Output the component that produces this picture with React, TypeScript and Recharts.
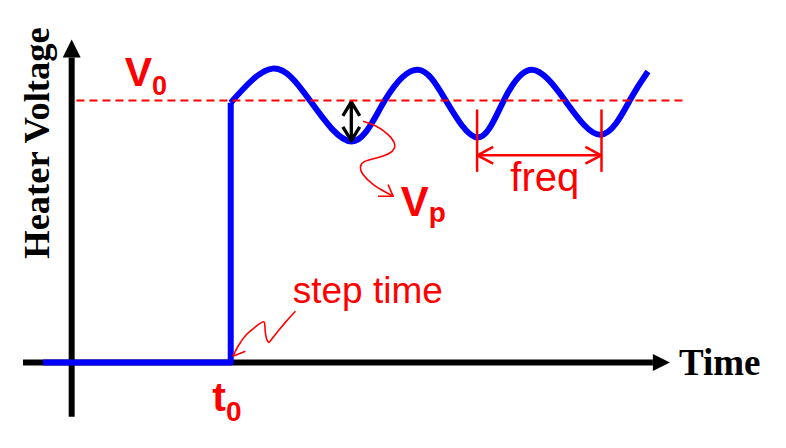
import { LineChart, Line, XAxis, YAxis, ReferenceLine, ReferenceDot } from 'recharts'

// time in units of t0, voltage in units of V0
const timeDomain = [-0.35, 3.9]
const voltDomain = [-0.25, 1.3]

const V0 = 1

// axes (black)
const xAxisLine = [
  { t: -0.306, v: 0 },
  { t: 3.654, v: 0 },
]
const yAxisLine = [
  { t: 0, v: -0.207 },
  { t: 0, v: 1.164 },
]
const xArrowTip = { t: 3.761, v: 0 }
const yArrowTip = { t: 0, v: 1.233 }

// heater voltage: off, then step at t0
const stepSeries = [
  { t: -0.18, v: 0 },
  { t: 1, v: 0 },
  { t: 1, v: 0.992 },
]

// oscillation after the step
const waveSeries = [
  { t: 1.0, v: 0.992 },
  { t: 1.264, v: 1.122 },
  { t: 1.497, v: 1.001 },
  { t: 1.761, v: 0.844 },
  { t: 1.969, v: 1.001 },
  { t: 2.176, v: 1.118 },
  { t: 2.352, v: 1.001 },
  { t: 2.553, v: 0.859 },
  { t: 2.717, v: 1.001 },
  { t: 2.893, v: 1.118 },
  { t: 3.101, v: 1.001 },
  { t: 3.327, v: 0.87 },
  { t: 3.509, v: 1.001 },
  { t: 3.623, v: 1.111 },
]

const v0Span = [0.03, 3.868]

// Vp double arrow
const vpShaft = [
  { t: 1.758, v: 0.997 },
  { t: 1.758, v: 0.845 },
]
const vpHeadTop = [
  { t: 1.705, v: 0.942 },
  { t: 1.758, v: 0.995 },
  { t: 1.811, v: 0.942 },
]
const vpHeadBottom = [
  { t: 1.705, v: 0.9 },
  { t: 1.758, v: 0.847 },
  { t: 1.811, v: 0.9 },
]

// freq marker
const freqLeft = [
  { t: 2.549, v: 0.966 },
  { t: 2.549, v: 0.728 },
]
const freqRight = [
  { t: 3.331, v: 0.966 },
  { t: 3.331, v: 0.728 },
]
const freqSpan = [
  { t: 2.549, v: 0.791 },
  { t: 3.331, v: 0.791 },
]
const freqHeadLeft = [
  { t: 2.65, v: 0.823 },
  { t: 2.551, v: 0.791 },
  { t: 2.65, v: 0.759 },
]
const freqHeadRight = [
  { t: 3.23, v: 0.823 },
  { t: 3.329, v: 0.791 },
  { t: 3.23, v: 0.759 },
]

// squiggly pointers
const vpPointer = [
  { t: 1.832, v: 0.921 },
  { t: 1.918, v: 0.901 },
  { t: 1.989, v: 0.87 },
  { t: 2.031, v: 0.832 },
  { t: 2.0, v: 0.8 },
  { t: 1.916, v: 0.781 },
  { t: 1.843, v: 0.768 },
  { t: 1.816, v: 0.748 },
  { t: 1.832, v: 0.718 },
  { t: 1.895, v: 0.68 },
  { t: 1.969, v: 0.652 },
  { t: 2.021, v: 0.635 },
]
const vpPointerHead = [
  { t: 1.989, v: 0.679 },
  { t: 2.021, v: 0.635 },
  { t: 1.926, v: 0.635 },
]
const stepPointer = [
  { t: 1.407, v: 0.196 },
  { t: 1.35, v: 0.158 },
  { t: 1.297, v: 0.119 },
  { t: 1.256, v: 0.088 },
  { t: 1.235, v: 0.079 },
  { t: 1.217, v: 0.118 },
  { t: 1.209, v: 0.155 },
  { t: 1.162, v: 0.139 },
  { t: 1.099, v: 0.107 },
  { t: 1.046, v: 0.062 },
  { t: 1.014, v: 0.024 },
]
const stepPointerHead = [
  { t: 1.092, v: 0.043 },
  { t: 1.014, v: 0.024 },
]

// label anchors
const yTitleAt = { t: -0.145, v: 0.838 }
const xTitleAt = { t: 3.818, v: -0.048 }
const v0At = { t: 0.333, v: 1.055 }
const vpAt = { t: 2.069, v: 0.558 }
const freqAt = { t: 2.758, v: 0.654 }
const stepAt = { t: 1.39, v: 0.228 }
const t0At = { t: 0.884, v: -0.186 }

const RED = '#ff0000'
const BLUE = '#0000ff'
const serif = '"Liberation Serif", "Times New Roman", serif'
const sans = '"Liberation Sans", Arial, sans-serif'

const segments = [
  { key: 'xaxis', data: xAxisLine, color: '#000', width: 6, curve: 'linear' },
  { key: 'yaxis', data: yAxisLine, color: '#000', width: 6, curve: 'linear' },
  { key: 'step', data: stepSeries, color: BLUE, width: 6, curve: 'linear' },
  { key: 'wave', data: waveSeries, color: BLUE, width: 6, curve: 'natural' },
  { key: 'vpShaft', data: vpShaft, color: '#000', width: 3.3, curve: 'linear' },
  { key: 'vpTop', data: vpHeadTop, color: '#000', width: 3.3, curve: 'linear' },
  { key: 'vpBot', data: vpHeadBottom, color: '#000', width: 3.3, curve: 'linear' },
  { key: 'fL', data: freqLeft, color: RED, width: 2.5, curve: 'linear' },
  { key: 'fR', data: freqRight, color: RED, width: 2.5, curve: 'linear' },
  { key: 'fS', data: freqSpan, color: RED, width: 2.5, curve: 'linear' },
  { key: 'fHL', data: freqHeadLeft, color: RED, width: 2.5, curve: 'linear' },
  { key: 'fHR', data: freqHeadRight, color: RED, width: 2.5, curve: 'linear' },
  { key: 'vpPtr', data: vpPointer, color: RED, width: 1.6, curve: 'natural' },
  { key: 'vpPtrH', data: vpPointerHead, color: RED, width: 1.6, curve: 'linear' },
  { key: 'stPtr', data: stepPointer, color: RED, width: 1.6, curve: 'natural' },
  { key: 'stPtrH', data: stepPointerHead, color: RED, width: 1.6, curve: 'linear' },
]

export default function App() {
  return (
    <div style={{ position: 'absolute', left: 0, top: 0, background: '#fff' }}>
      <LineChart width={786} height={448} margin={{ top: 22, right: 94, bottom: 20, left: 16 }}>
        <XAxis type="number" dataKey="t" domain={timeDomain} allowDataOverflow hide />
        <YAxis type="number" dataKey="v" domain={voltDomain} allowDataOverflow hide />

        {segments.map((s) => (
          <Line
            key={s.key}
            data={s.data}
            dataKey="v"
            type={s.curve as any}
            stroke={s.color}
            strokeWidth={s.width}
            strokeLinejoin="round"
            dot={false}
            activeDot={false}
            isAnimationActive={false}
          />
        ))}

        <ReferenceLine
          segment={[
            { x: v0Span[0], y: V0 },
            { x: v0Span[1], y: V0 },
          ]}
          stroke={RED}
          strokeWidth={2}
          strokeDasharray="8 5"
        />

        {/* arrow heads of the axes */}
        <ReferenceDot
          x={xArrowTip.t}
          y={xArrowTip.v}
          shape={(p: any) => (
            <polygon
              points={`${p.cx},${p.cy} ${p.cx - 17},${p.cy - 8.5} ${p.cx - 17},${p.cy + 8.5}`}
              fill="#000"
            />
          )}
        />
        <ReferenceDot
          x={yArrowTip.t}
          y={yArrowTip.v}
          shape={(p: any) => (
            <polygon
              points={`${p.cx},${p.cy} ${p.cx - 9},${p.cy + 18} ${p.cx + 9},${p.cy + 18}`}
              fill="#000"
            />
          )}
        />

        {/* texts */}
        <ReferenceDot
          x={yTitleAt.t}
          y={yTitleAt.v}
          shape={(p: any) => (
            <text
              x={p.cx}
              y={p.cy}
              transform={`rotate(-90 ${p.cx} ${p.cy})`}
              textAnchor="middle"
              fontFamily={serif}
              fontWeight="bold"
              fontSize={36.5}
              fill="#000"
            >
              Heater Voltage
            </text>
          )}
        />
        <ReferenceDot
          x={xTitleAt.t}
          y={xTitleAt.v}
          shape={(p: any) => (
            <text x={p.cx} y={p.cy} fontFamily={serif} fontWeight="bold" fontSize={37} fill="#000">
              Time
            </text>
          )}
        />
        <ReferenceDot
          x={v0At.t}
          y={v0At.v}
          shape={(p: any) => (
            <text x={p.cx} y={p.cy} fontFamily={sans} fontWeight="bold" fontSize={41} fill={RED}>
              <tspan>V</tspan>
              <tspan fontSize={27} dy={9}>0</tspan>
            </text>
          )}
        />
        <ReferenceDot
          x={vpAt.t}
          y={vpAt.v}
          shape={(p: any) => (
            <text x={p.cx} y={p.cy} fontFamily={sans} fontWeight="bold" fontSize={42} fill={RED}>
              <tspan>V</tspan>
              <tspan fontSize={28} dy={6}>p</tspan>
            </text>
          )}
        />
        <ReferenceDot
          x={freqAt.t}
          y={freqAt.v}
          shape={(p: any) => (
            <text x={p.cx} y={p.cy} fontFamily={sans} fontSize={40} fill={RED}>
              freq
            </text>
          )}
        />
        <ReferenceDot
          x={stepAt.t}
          y={stepAt.v}
          shape={(p: any) => (
            <text x={p.cx} y={p.cy} fontFamily={sans} fontSize={37} fill={RED}>
              step time
            </text>
          )}
        />
        <ReferenceDot
          x={t0At.t}
          y={t0At.v}
          shape={(p: any) => (
            <text x={p.cx} y={p.cy} fontFamily={sans} fontWeight="bold" fontSize={41} fill={RED}>
              <tspan>t</tspan>
              <tspan fontSize={28} dy={10}>0</tspan>
            </text>
          )}
        />
      </LineChart>
    </div>
  )
}
